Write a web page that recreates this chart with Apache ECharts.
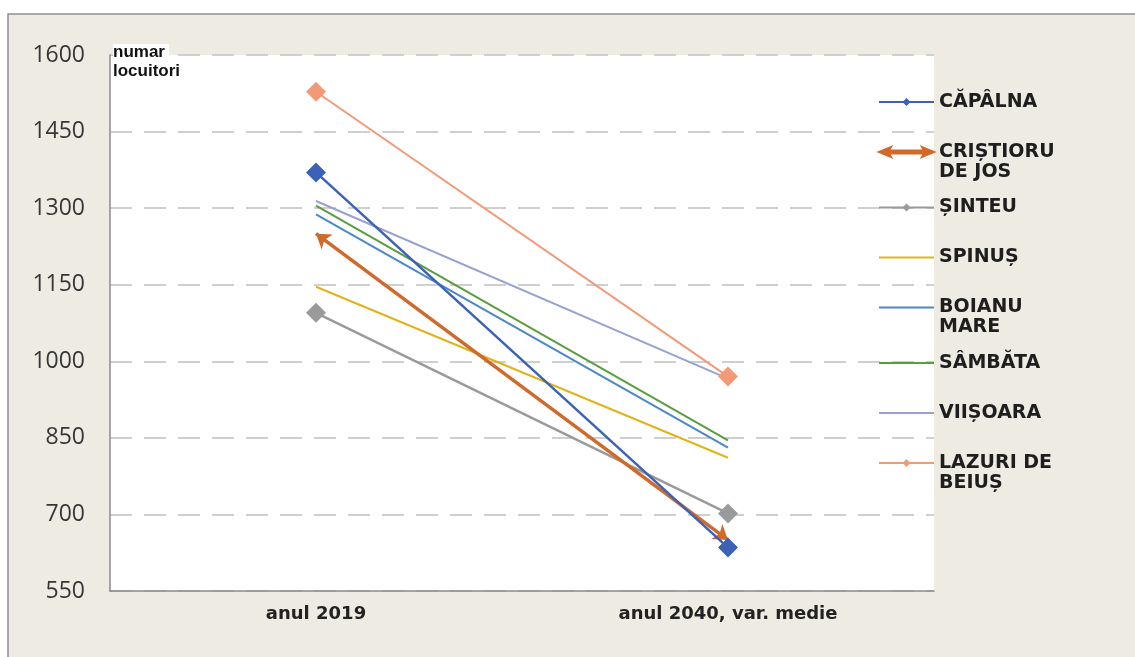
<!DOCTYPE html>
<html>
<head>
<meta charset="utf-8">
<script src="https://cdn.jsdelivr.net/npm/echarts@6/dist/echarts.min.js"></script>
<style>html,body{margin:0;padding:0;background:#fff;}#c{width:1135px;height:657px;}</style>
</head>
<body>
<div id="c"></div>
<script>
// ---- data ----
const categories = ['anul 2019', 'anul 2040, var. medie'];
const capalna   = [1370, 635];
const cristioru = [1250, 650];
const sinteu    = [1095, 702];
const spinus    = [1146, 811];
const boianu    = [1288, 831];
const sambata   = [1305, 845];
const viisoara  = [1314, 966];
const lazuri    = [1528, 970];
const seriesNames = ['CĂPÂLNA', 'CRIȘTIORU DE JOS', 'ȘINTEU', 'SPINUȘ', 'BOIANU MARE', 'SÂMBĂTA', 'VIIȘOARA', 'LAZURI DE BEIUȘ'];
const legendLabels = [['CĂPÂLNA'], ['CRIȘTIORU', 'DE JOS'], ['ȘINTEU'], ['SPINUȘ'], ['BOIANU', 'MARE'], ['SÂMBĂTA'], ['VIIȘOARA'], ['LAZURI DE', 'BEIUȘ']];
const yMin = 550, yMax = 1600, yStep = 150;
const yAxisTitle = ['numar', 'locuitori'];

// ---- chart ----
const colors = {
  capalna: '#3b62b4', cristioru: '#cf6a2c', sinteu: '#9a9a9a', spinus: '#e0b31a',
  boianu: '#4a88c7', sambata: '#5a9d3f', viisoara: '#98a2cf', lazuri: '#f29a78'
};
const markerSeries = [true, false, true, false, false, false, false, true];

function lineSeries(name, data, color, width, withMarker, z) {
  return {
    type: 'line', name: name, data: data, z: z || 2,
    symbol: withMarker ? 'diamond' : 'none', symbolSize: 20, showSymbol: withMarker,
    lineStyle: { color: color, width: width },
    itemStyle: { color: color },
    emphasis: { disabled: true }, animation: false
  };
}

const chart = echarts.init(document.getElementById('c'), null, { renderer: 'canvas' });

const labelMap = {};
seriesNames.forEach((n, i) => { labelMap[n] = legendLabels[i]; });

const legendFont = { fontFamily: 'DejaVu Sans', fontWeight: 'bold', fontSize: 19, color: '#1e1e1e' };

const option = {
  backgroundColor: '#ffffff',
  animation: false,
  graphic: [{
    type: 'rect', z: -10, silent: true,
    shape: { x: 8, y: 14, width: 1140, height: 660 },
    style: { fill: '#eeebe3', stroke: '#8f8f8f', lineWidth: 1.5 }
  }],
  grid: { left: 110, right: 201, top: 55, bottom: 66, show: true, backgroundColor: '#ffffff', borderWidth: 0 },
  legend: {
    orient: 'vertical', left: 878, top: 78, itemGap: 2, itemWidth: 55, itemHeight: 10, padding: 0,
    selectedMode: false,
    data: seriesNames.map((n, i) => {
      if (i === 1) return {
        name: n,
        icon: 'path://M0,5L12,0L10,3.5L45,3.5L43,0L55,5L43,10L45,6.5L10,6.5L12,10Z',
        itemStyle: { color: colors.cristioru }
      };
      if (!markerSeries[i]) return { name: n, itemStyle: { opacity: 0 } };
      return { name: n };
    }),
    formatter: function (name) {
      const l = labelMap[name];
      return '{s| }\n{a|' + l[0] + '}\n' + (l.length > 1 ? '{b|' + l[1] + '}' : '{s| }');
    },
    textStyle: {
      fontFamily: 'DejaVu Sans', fontWeight: 'bold', fontSize: 19, color: '#1e1e1e',
      rich: {
        s: { fontSize: 8, lineHeight: 11 },
        a: Object.assign({ lineHeight: 29 }, legendFont),
        b: Object.assign({ lineHeight: 11 }, legendFont)
      }
    }
  },
  xAxis: {
    type: 'category', data: categories, boundaryGap: true,
    axisLine: { show: true, lineStyle: { color: '#8a8a8a', width: 1.5 } },
    axisTick: { show: false },
    axisLabel: { fontFamily: 'DejaVu Sans', fontWeight: 'bold', fontSize: 18, color: '#222', margin: 14 },
    splitLine: { show: false }
  },
  yAxis: {
    type: 'value', min: yMin, max: yMax, interval: yStep,
    name: '{a|' + yAxisTitle[0] + '}\n{b|' + yAxisTitle[1] + '}', nameLocation: 'end', nameGap: 12,
    nameTextStyle: {
      align: 'left', verticalAlign: 'top', padding: [0, 0, 0, 3],
      rich: {
        a: { fontFamily: 'Liberation Sans', fontWeight: 'bold', fontSize: 17, color: '#111', lineHeight: 19, backgroundColor: '#ffffff', padding: [0, 4, 0, 0] },
        b: { fontFamily: 'Liberation Sans', fontWeight: 'bold', fontSize: 17, color: '#111', lineHeight: 19 }
      }
    },
    axisLine: { show: true, lineStyle: { color: '#8a8a8a', width: 1.5 } },
    axisTick: { show: false },
    axisLabel: { fontFamily: 'Open Sans', fontSize: 23, color: '#363636', margin: 25, formatter: v => String(v) },
    splitLine: { show: true, lineStyle: { color: '#cfcfcf', width: 2, type: [22, 12] } }
  },
  series: [
    lineSeries(seriesNames[0], capalna, colors.capalna, 2.5, true, 4),
    {
      type: 'lines', name: seriesNames[1], coordinateSystem: 'cartesian2d', z: 3,
      symbol: ['arrow', 'arrow'], symbolSize: 14,
      lineStyle: { color: colors.cristioru, width: 3.5, opacity: 1 },
      itemStyle: { color: colors.cristioru },
      data: [{ coords: [[categories[0], cristioru[0]], [categories[1], cristioru[1]]] }],
      silent: true, animation: false
    },
    lineSeries(seriesNames[2], sinteu, colors.sinteu, 2.5, true, 2),
    lineSeries(seriesNames[3], spinus, colors.spinus, 2, false, 2),
    lineSeries(seriesNames[4], boianu, colors.boianu, 2, false, 2),
    lineSeries(seriesNames[5], sambata, colors.sambata, 2, false, 2),
    lineSeries(seriesNames[6], viisoara, colors.viisoara, 2, false, 2),
    lineSeries(seriesNames[7], lazuri, colors.lazuri, 2, true, 3)
  ]
};
chart.setOption(option);
</script>
</body>
</html>
